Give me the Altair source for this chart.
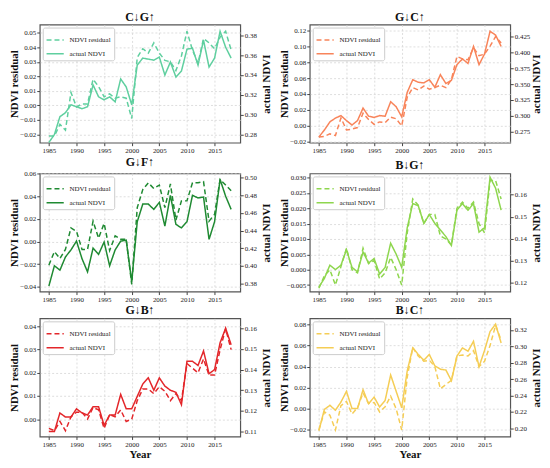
import altair as alt
import pandas as pd

YEARS = list(range(1985, 2019))
SERIES = ["NDVI residual", "actual NDVI"]
TITLES = ["C↓G↑", "G↓C↑", "G↓F↑", "B↓G↑", "G↓B↑", "B↓C↑"]
COLORS = ["#5fcf9f", "#f8845a", "#1f8a32", "#8ed64e", "#e3262a", "#f5cd55"]

RES_1 = [-0.021, -0.021, -0.013, -0.017, 0.009, -0.001, 0.001, 0.001, 0.018, 0.013, 0.006, 0.008,
         0.005, 0.006, 0.005, -0.009, 0.033, 0.039, 0.036, 0.043, 0.036, 0.031, 0.030, 0.024, 0.034,
         0.051, 0.038, 0.029, 0.046, 0.043, 0.039, 0.047, 0.051, 0.038]
ACT_1 = [0.272, 0.280, 0.298, 0.302, 0.310, 0.308, 0.306, 0.308, 0.330, 0.318, 0.315, 0.318,
         0.313, 0.336, 0.328, 0.310, 0.350, 0.357, 0.356, 0.355, 0.358, 0.340, 0.353, 0.338, 0.344,
         0.366, 0.367, 0.350, 0.375, 0.348, 0.357, 0.384, 0.368, 0.357]

RES_2 = [-0.014, -0.013, -0.010, -0.012, 0.010, -0.005, -0.004, -0.002, 0.016, 0.008, 0.002, 0.005,
         0.004, 0.011, 0.009, 0.000, 0.036, 0.048, 0.045, 0.050, 0.046, 0.048, 0.051, 0.048, 0.058,
         0.087, 0.084, 0.083, 0.098, 0.088, 0.090, 0.100, 0.112, 0.104]
ACT_2 = [0.266, 0.277, 0.290, 0.296, 0.300, 0.292, 0.285, 0.292, 0.312, 0.299, 0.297, 0.300,
         0.299, 0.322, 0.314, 0.298, 0.337, 0.357, 0.353, 0.352, 0.357, 0.345, 0.365, 0.351, 0.356,
         0.381, 0.390, 0.383, 0.410, 0.381, 0.398, 0.434, 0.428, 0.410]

RES_3 = [-0.021, -0.009, -0.015, -0.007, 0.012, 0.009, -0.007, -0.007, 0.018, 0.003, 0.016, -0.008,
         0.005, 0.002, 0.002, -0.038, 0.030, 0.046, 0.052, 0.047, 0.050, 0.030, 0.051, 0.019, 0.036,
         0.036, 0.052, 0.052, 0.053, 0.018, 0.024, 0.055, 0.050, 0.045]
ACT_3 = [0.377, 0.400, 0.395, 0.410, 0.418, 0.428, 0.408, 0.393, 0.420, 0.413, 0.427, 0.400,
         0.418, 0.428, 0.429, 0.382, 0.450, 0.470, 0.470, 0.464, 0.472, 0.445, 0.480, 0.447, 0.443,
         0.450, 0.480, 0.477, 0.478, 0.430, 0.450, 0.498, 0.479, 0.464]

RES_4 = [-0.006, -0.002, 0.000, -0.005, 0.001, 0.007, 0.000, -0.001, 0.007, 0.002, 0.003, -0.003,
         -0.001, 0.004, 0.000, -0.005, 0.012, 0.023, 0.021, 0.015, 0.018, 0.018, 0.011, 0.010, 0.008,
         0.020, 0.022, 0.020, 0.022, 0.015, 0.012, 0.029, 0.029, 0.023]
ACT_4 = [0.118, 0.122, 0.128, 0.126, 0.128, 0.135, 0.127, 0.125, 0.134, 0.129, 0.131, 0.124,
         0.127, 0.138, 0.133, 0.127, 0.145, 0.156, 0.155, 0.147, 0.151, 0.147, 0.144, 0.141, 0.137,
         0.153, 0.156, 0.153, 0.156, 0.143, 0.145, 0.168, 0.163, 0.153]

RES_5 = [-0.004, -0.005, -0.001, -0.005, 0.001, 0.003, 0.003, 0.000, 0.005, 0.004, -0.004, 0.002,
         0.001, 0.004, -0.001, 0.000, 0.008, 0.013, 0.013, 0.011, 0.014, 0.012, 0.008, 0.011, 0.008,
         0.024, 0.022, 0.020, 0.026, 0.019, 0.019, 0.030, 0.039, 0.030]
ACT_5 = [0.110, 0.110, 0.119, 0.117, 0.117, 0.121, 0.119, 0.118, 0.122, 0.122, 0.113, 0.118,
         0.118, 0.128, 0.121, 0.121, 0.127, 0.133, 0.136, 0.130, 0.136, 0.132, 0.130, 0.129, 0.123,
         0.144, 0.144, 0.142, 0.149, 0.138, 0.140, 0.153, 0.160, 0.152]

RES_6 = [-0.020, -0.003, -0.006, -0.020, 0.003, 0.007, -0.005, 0.001, 0.015, 0.005, 0.006, -0.003,
         0.002, 0.012, 0.000, -0.020, 0.030, 0.058, 0.050, 0.045, 0.046, 0.040, 0.019, 0.023, 0.027,
         0.050, 0.051, 0.050, 0.055, 0.040, 0.045, 0.060, 0.079, 0.065]
ACT_6 = [0.197, 0.223, 0.228, 0.222, 0.232, 0.245, 0.224, 0.224, 0.247, 0.230, 0.238, 0.226,
         0.234, 0.265, 0.245, 0.225, 0.270, 0.298, 0.290, 0.283, 0.290, 0.276, 0.272, 0.271, 0.258,
         0.288, 0.298, 0.294, 0.306, 0.275, 0.295, 0.318, 0.327, 0.304]

RES = [RES_1, RES_2, RES_3, RES_4, RES_5, RES_6]
ACT = [ACT_1, ACT_2, ACT_3, ACT_4, ACT_5, ACT_6]

LEFT_DOMAINS = [[-0.0256, 0.0556], [-0.021, 0.127], [-0.0444, 0.0603],
                [-0.0071, 0.0313], [-0.0075, 0.0435], [-0.0262, 0.0856]]
RIGHT_DOMAINS = [[0.2718, 0.3908], [0.2569, 0.4447], [0.3707, 0.5048],
                 [0.116, 0.1697], [0.1076, 0.1648], [0.19, 0.334]]
LEFT_TICKS = [[-0.02, -0.01, 0.0, 0.01, 0.02, 0.03, 0.04, 0.05],
              [-0.02, 0.0, 0.02, 0.04, 0.06, 0.08, 0.10, 0.12],
              [-0.04, -0.02, 0.0, 0.02, 0.04, 0.06],
              [-0.005, 0.0, 0.005, 0.010, 0.015, 0.020, 0.025, 0.030],
              [0.0, 0.01, 0.02, 0.03, 0.04],
              [-0.02, 0.0, 0.02, 0.04, 0.06, 0.08]]
RIGHT_TICKS = [[0.28, 0.30, 0.32, 0.34, 0.36, 0.38],
               [0.275, 0.300, 0.325, 0.350, 0.375, 0.400, 0.425],
               [0.38, 0.40, 0.42, 0.44, 0.46, 0.48, 0.50],
               [0.12, 0.13, 0.14, 0.15, 0.16],
               [0.11, 0.12, 0.13, 0.14, 0.15, 0.16],
               [0.20, 0.22, 0.24, 0.26, 0.28, 0.30, 0.32]]
LEFT_FMT = [".2f", ".2f", ".2f", ".3f", ".2f", ".2f"]
RIGHT_FMT = [".2f", ".3f", ".2f", ".2f", ".2f", ".2f"]
X_DOMAIN = [1983.35, 2019.65]
X_TICKS = [1985, 1990, 1995, 2000, 2005, 2010, 2015]

FONT = "Liberation Serif"
W, H = 202, 119


def panel(i, bottom):
    df_r = pd.DataFrame({"Year": YEARS, "value": RES[i], "series": SERIES[0]})
    df_a = pd.DataFrame({"Year": YEARS, "value": ACT[i], "series": SERIES[1]})
    x = alt.X("Year:Q", scale=alt.Scale(domain=X_DOMAIN, nice=False, zero=False),
              axis=alt.Axis(values=X_TICKS, format="d", title="Year" if bottom else None, grid=True))
    legend = alt.Legend(title=None, orient="top-left", offset=3, padding=3,
                        strokeColor="#cccccc", fillColor="white", cornerRadius=2,
                        labelFont=FONT, labelFontSize=7, labelColor="#222",
                        symbolType="stroke", symbolSize=300, symbolStrokeWidth=1.5,
                        rowPadding=1, labelOffset=5)
    color = alt.Color("series:N", scale=alt.Scale(domain=SERIES, range=[COLORS[i], COLORS[i]]),
                      legend=legend)
    dash = alt.StrokeDash("series:N", scale=alt.Scale(domain=SERIES, range=[[5, 3], [1, 0]]),
                          legend=legend)
    l1 = alt.Chart(df_r).mark_line(strokeWidth=1.5).encode(
        x=x,
        y=alt.Y("value:Q", scale=alt.Scale(domain=LEFT_DOMAINS[i], nice=False, zero=False),
                axis=alt.Axis(values=LEFT_TICKS[i], format=LEFT_FMT[i], title="NDVI residual",
                              orient="left", grid=True)),
        color=color, strokeDash=dash)
    l2 = alt.Chart(df_a).mark_line(strokeWidth=1.5).encode(
        x=x,
        y=alt.Y("value:Q", scale=alt.Scale(domain=RIGHT_DOMAINS[i], nice=False, zero=False),
                axis=alt.Axis(values=RIGHT_TICKS[i], format=RIGHT_FMT[i], title="actual NDVI",
                              orient="right", grid=False, titleAngle=270, titleBaseline="top")),
        color=color, strokeDash=dash)
    return alt.layer(l1, l2).resolve_scale(y="independent").properties(
        width=W, height=H,
        title=alt.TitleParams(TITLES[i], font=FONT, fontSize=12, fontWeight="bold", offset=1,
                              color="#111"))


def row(a, b, bottom):
    return alt.hconcat(panel(a, bottom), panel(b, bottom), spacing=6).resolve_scale(
        x="independent", y="independent", color="independent", strokeDash="independent"
    ).resolve_legend(color="independent", strokeDash="independent")


chart = alt.vconcat(row(0, 1, False), row(2, 3, False), row(4, 5, True), spacing=0).resolve_scale(
    x="independent", y="independent", color="independent", strokeDash="independent"
).resolve_legend(color="independent", strokeDash="independent").properties(
    padding=0
).configure_view(
    stroke="#555555", strokeWidth=1.2
).configure_axis(
    labelFont=FONT, labelFontSize=7, labelColor="#222", titleFont=FONT, titleFontSize=11,
    titleFontWeight="bold", titleColor="#111", tickColor="#444", tickSize=3, labelPadding=1,
    domain=False, gridColor="#d5d5d5", gridDash=[2, 2], gridWidth=0.8, titlePadding=2
).configure_axisY(
    minExtent=18, maxExtent=18
).configure_axisX(
    titlePadding=1
)

chart.save("out.html", embed_options={"renderer": "svg", "actions": False})
